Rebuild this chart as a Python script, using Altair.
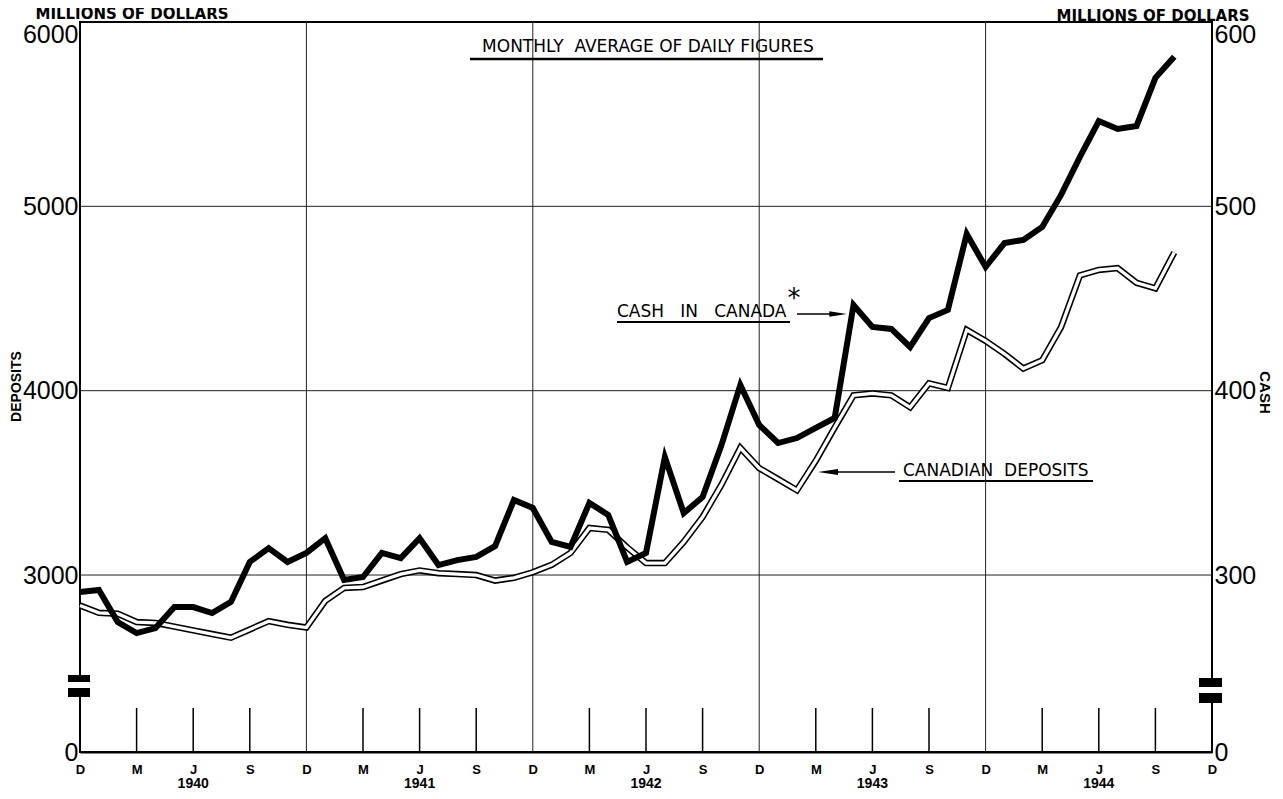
import altair as alt
import pandas as pd

# ---------------- data ----------------
months = list(range(59))  # 0 = Dec 1939 ... 58 = Oct 1944
deposits = [2835, 2795, 2790, 2745, 2740, 2720, 2700, 2680, 2660, 2705,
            2750, 2730, 2715, 2860, 2930, 2935, 2970, 3005, 3025, 3010,
            3005, 3000, 2970, 2985, 3015, 3055, 3120, 3255, 3245, 3150,
            3065, 3065, 3180, 3315, 3490, 3690, 3580, 3520, 3460, 3620,
            3800, 3975, 3985, 3975, 3910, 4040, 4015, 4330, 4270, 4200,
            4120, 4165, 4345, 4625, 4655, 4665, 4585, 4555, 4750]
cash = [290.8, 291.9, 274.5, 268.5, 271.2, 282.6, 282.6, 279.4, 285.4, 307.1,
        314.6, 307.1, 312.0, 320.0, 297.3, 298.9, 312.0, 309.2, 320.0, 305.4,
        308.1, 309.8, 315.7, 340.7, 336.4, 318.0, 315.2, 339.1, 332.6, 307.1,
        312.0, 364.0, 333.6, 342.3, 370.5, 403.1, 381.4, 371.6, 374.3, 379.8,
        385.2, 446.5, 434.6, 433.5, 423.7, 439.4, 443.8, 485.0, 467.1, 480.1,
        481.8, 488.8, 506.2, 526.8, 546.3, 542.0, 543.6, 569.7, 581.1]

tick_months = list(range(0, 61, 3))
tick_letters = ["D", "M", "J", "S"]
years = ["1940", "1941", "1942", "1943", "1944"]
year_months = [6, 18, 30, 42, 54]
dec_months = [12, 24, 36, 48]
quarter_months = [m for m in range(3, 60, 3) if m % 12 != 0]
grid_values = [3000, 4000, 5000]
dep_ticks = [2040, 3000, 4000, 5000, 6000]

# ---------------- layout ----------------
W, H = 1132, 730
YDOM = [2040, 6000]
FONT = "Liberation Sans"
NUM_FONT = "Liberation Sans"
HEAD_FONT = "DejaVu Sans"

df = pd.DataFrame({"month": months, "deposits": deposits, "cash": cash})
xs = alt.Scale(domain=[0, 60], nice=False, zero=False)
ys = alt.Scale(domain=YDOM, nice=False, zero=False)
one = pd.DataFrame({"t": [""]})

letter_expr = ("(datum.value % 12) == 0 ? '{0}' : (datum.value % 12) == 3 ? '{1}' : "
               "(datum.value % 12) == 6 ? '{2}' : '{3}'").format(*tick_letters)

x_axis = alt.Axis(
    values=tick_months,
    labelExpr=letter_expr,
    labelFont=FONT, labelFontSize=13, labelFontWeight="bold", labelColor="black",
    labelPadding=11, labelFlush=False, labelAngle=0, labelOverlap=False,
    ticks=False, grid=False, domain=True, domainColor="black", domainWidth=2,
    title=None, orient="bottom",
)

left_axis = alt.Axis(
    values=dep_ticks, format="d",
    labelExpr="datum.value < 2500 ? '0' : datum.label",
    labelFont=NUM_FONT, labelFontSize=25, labelColor="black", labelPadding=2,
    labelBaseline={"condition": {"test": "datum.value >= 6000", "value": "top"}, "value": "middle"},
    ticks=False, grid=False, domain=False, orient="left",
    title="DEPOSITS", titleFont=FONT, titleFontSize=14, titleFontWeight="bold",
    titleColor="black", titleAngle=270, titleX=-64, titleY=364,
    titleAlign="center", titleBaseline="middle",
)

right_axis = alt.Axis(
    values=dep_ticks,
    labelExpr="datum.value < 2500 ? '0' : format(datum.value/10, 'd')",
    labelFont=NUM_FONT, labelFontSize=25, labelColor="black", labelPadding=2,
    labelBaseline={"condition": {"test": "datum.value >= 6000", "value": "top"}, "value": "middle"},
    ticks=False, grid=False, domain=False, orient="right",
    title="CASH", titleFont=FONT, titleFontSize=15, titleFontWeight="bold",
    titleColor="black", titleAngle=90, titleX=52, titleY=370,
    titleAlign="center", titleBaseline="middle",
)

# grid lines
hgrid = alt.Chart(pd.DataFrame({"v": grid_values})).mark_rule(
    color="#222", strokeWidth=1).encode(
    y=alt.Y("v:Q", scale=ys, axis=None))
vgrid = alt.Chart(pd.DataFrame({"m": dec_months})).mark_rule(
    color="#222", strokeWidth=1).encode(
    x=alt.X("m:Q", scale=xs, axis=None), y=alt.value(0), y2=alt.value(H))
qticks = alt.Chart(pd.DataFrame({"m": quarter_months})).mark_rule(
    color="black", strokeWidth=1.5).encode(
    x=alt.X("m:Q", scale=xs, axis=None), y=alt.value(686), y2=alt.value(H))

# series
dep_outer = alt.Chart(df).mark_line(
    color="black", strokeWidth=6.5, strokeCap="butt", strokeJoin="miter", strokeMiterLimit=4).encode(
    x=alt.X("month:Q", scale=xs, axis=x_axis),
    y=alt.Y("deposits:Q", scale=ys, axis=left_axis))
dep_inner = alt.Chart(df).mark_line(
    color="white", strokeWidth=3.3, strokeCap="butt", strokeJoin="miter", strokeMiterLimit=4).encode(
    x=alt.X("month:Q", scale=xs, axis=None),
    y=alt.Y("deposits:Q", scale=ys, axis=None))
cash_line = alt.Chart(df).transform_calculate(cash10="datum.cash * 10").mark_line(
    color="black", strokeWidth=6, strokeCap="butt", strokeJoin="miter", strokeMiterLimit=4).encode(
    x=alt.X("month:Q", scale=xs, axis=None),
    y=alt.Y("cash10:Q", scale=ys, axis=right_axis))

# years under the month letters
year_text = alt.Chart(pd.DataFrame({"m": year_months, "y": years})).mark_text(
    font=FONT, fontSize=14, fontWeight="bold", color="black", baseline="alphabetic").encode(
    x=alt.X("m:Q", scale=xs, axis=None), y=alt.value(766), text="y:N")


def label(text, x, y, size, align="left", weight="normal", font=HEAD_FONT, angle=0, baseline="middle"):
    return alt.Chart(pd.DataFrame({"t": [text]})).mark_text(
        align=align, baseline=baseline, font=font, fontSize=size,
        fontWeight=weight, color="black", angle=angle).encode(
        x=alt.value(x), y=alt.value(y), text="t:N")


def hline(x1, x2, y, w):
    return alt.Chart(one).mark_rule(color="black", strokeWidth=w).encode(
        x=alt.value(x1), x2=alt.value(x2), y=alt.value(y))


def box(x1, x2, y1, y2, color="black"):
    return alt.Chart(one).mark_rect(color=color).encode(
        x=alt.value(x1), x2=alt.value(x2), y=alt.value(y1), y2=alt.value(y2))


def head(x, y, path, size):
    return alt.Chart(one).mark_point(
        shape=path, size=size, filled=True, color="black", opacity=1).encode(
        x=alt.value(x), y=alt.value(y))


NB = "\u00a0"
annotations = [
    label("MILLIONS OF DOLLARS", 52, -3, 15, align="center", weight="bold", baseline="alphabetic"),
    label("MILLIONS OF DOLLARS", 1073, -1, 15, align="center", weight="bold", baseline="alphabetic"),
    label("MONTHLY" + NB + NB + "AVERAGE OF DAILY FIGURES", 568, 25, 17, align="center"),
    hline(390, 743, 37, 2.5),
    label("CASH" + NB * 3 + "IN" + NB * 3 + "CANADA", 537, 290, 17),
    hline(537, 710, 300, 2),
    label("*", 714, 285, 26, align="center", baseline="alphabetic"),
    hline(717, 752, 292, 1.5),
    head(758, 292, "M-1,-0.32L1,0L-1,0.32Z", 300),
    label("CANADIAN" + NB + NB + "DEPOSITS", 823, 449, 17),
    hline(819, 1013, 459, 2),
    hline(756, 815, 450, 1.5),
    head(748, 450, "M1,-0.3L-1,0L1,0.3Z", 400),
    # axis breaks
    box(-3, 3, 660, 666, "white"),
    box(-12, 10, 653, 660),
    box(-12, 10, 666, 675),
    box(W - 3, W + 3, 665, 671, "white"),
    box(W - 13, W + 10, 656, 665),
    box(W - 13, W + 10, 671, 681),
]

chart = alt.layer(
    hgrid, vgrid, qticks, dep_outer, dep_inner, cash_line, year_text, *annotations
).resolve_axis(x="independent", y="independent").properties(
    width=W, height=H,
    autosize=alt.AutoSizeParams(type="none"),
    padding={"left": 72, "top": 14, "right": 63, "bottom": 38},
    background="white",
).configure_view(stroke="black", strokeWidth=2)

chart.save("out.html", embed_options={"renderer": "svg", "actions": False})
